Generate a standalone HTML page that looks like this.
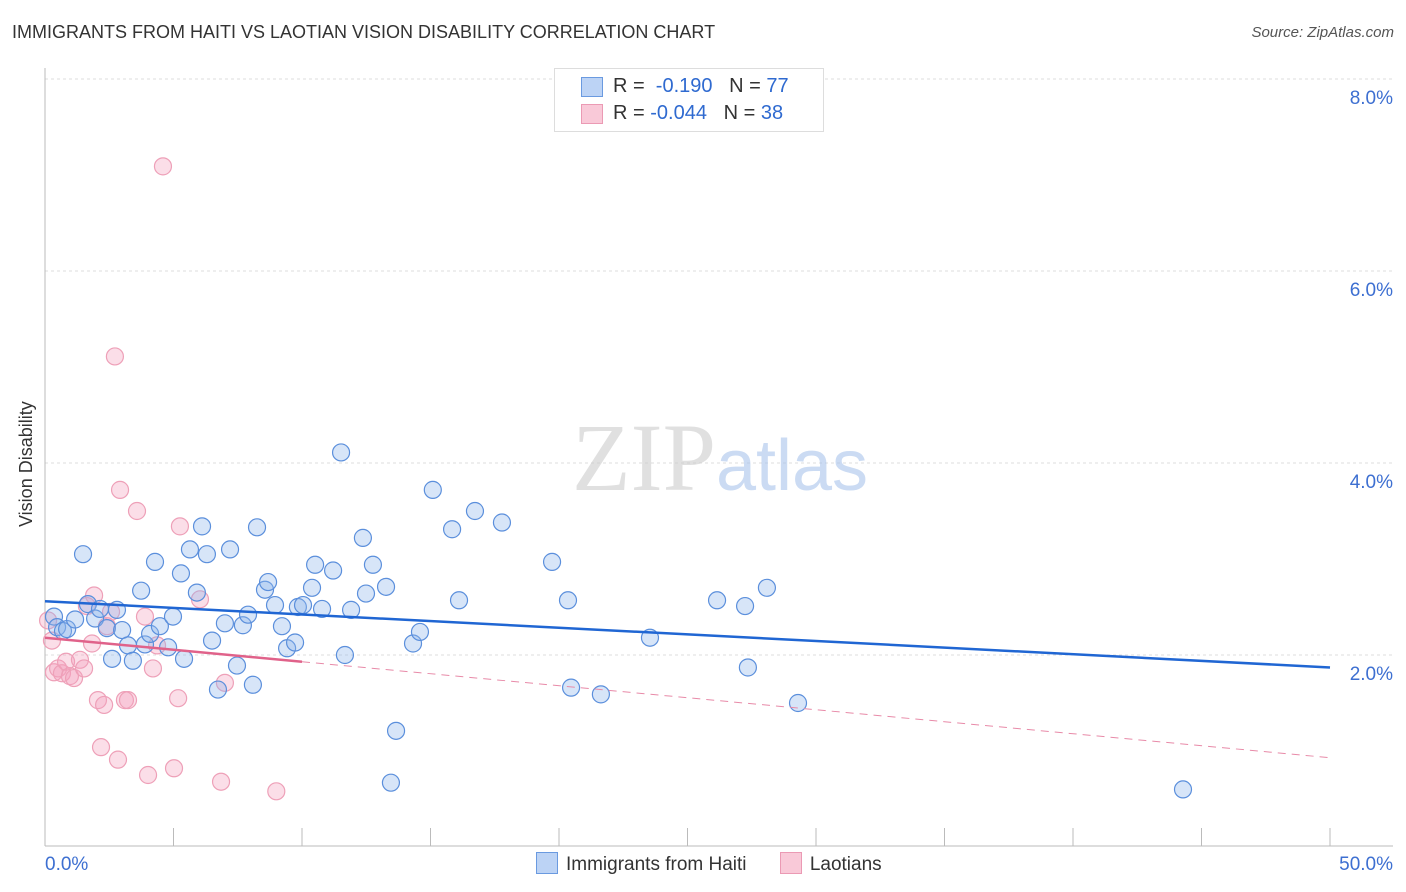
<!DOCTYPE html>
<html><head><meta charset="utf-8"><style>
body{margin:0;background:#fff;font-family:"Liberation Sans",sans-serif;}
#wrap{position:relative;width:1406px;height:892px;overflow:hidden;}
.t{position:absolute;white-space:nowrap;}
</style></head><body>
<div id="wrap">
<div class="t" style="left:12px;top:22px;font-size:18px;color:#333;">IMMIGRANTS FROM HAITI VS LAOTIAN VISION DISABILITY CORRELATION CHART</div>
<div class="t" style="right:12px;top:24px;font-size:15px;color:#555;font-style:italic;">Source: ZipAtlas.com</div>
<div class="t" style="left:16px;font-size:18px;color:#333;transform:rotate(-90deg);transform-origin:left top;top:527px;">Vision Disability</div>
<svg id="svg" width="1406" height="892" style="position:absolute;left:0;top:0"></svg>
</div>
<script>
const yTicks=[2,4,6,8];
const yTickLabels=["2.0%","4.0%","6.0%","8.0%"];
const haitiX=[0.35,0.47,0.7,0.86,1.17,1.48,1.67,1.95,2.14,2.41,2.61,2.8,3.0,3.23,3.42,3.74,3.89,4.09,4.28,4.47,4.79,4.98,5.29,5.41,5.64,5.91,6.11,6.3,6.5,6.73,7.0,7.2,7.47,7.7,7.9,8.09,8.25,8.56,8.68,8.95,9.22,9.42,9.73,9.84,10.04,10.39,10.51,10.78,11.21,11.52,11.67,11.91,12.37,12.49,12.76,13.27,13.66,13.46,14.32,14.59,15.09,15.84,16.11,16.73,17.78,19.73,20.35,20.47,21.63,23.54,26.15,27.24,27.35,28.09,29.3,44.28];
const haitiY=[2.4,2.29,2.25,2.27,2.37,3.05,2.53,2.38,2.48,2.28,1.96,2.47,2.26,2.1,1.94,2.67,2.11,2.22,2.97,2.3,2.08,2.4,2.85,1.96,3.1,2.65,3.34,3.05,2.15,1.64,2.33,3.1,1.89,2.31,2.42,1.69,3.33,2.68,2.76,2.52,2.3,2.07,2.13,2.5,2.52,2.7,2.94,2.48,2.88,4.11,2.0,2.47,3.22,2.64,2.94,2.71,1.21,0.67,2.12,2.24,3.72,3.31,2.57,3.5,3.38,2.97,2.57,1.66,1.59,2.18,2.57,2.51,1.87,2.7,1.5,0.6];
const laoX=[0.12,0.27,0.35,0.51,0.66,0.82,0.97,1.13,1.36,1.52,1.63,1.83,1.91,2.06,2.18,2.3,2.41,2.57,2.72,2.84,2.92,3.11,3.23,3.58,3.89,4.01,4.2,4.36,4.59,5.02,5.18,5.25,6.03,6.85,7.0,9.0];
const laoY=[2.36,2.15,1.82,1.86,1.81,1.93,1.78,1.76,1.95,1.86,2.51,2.12,2.62,1.53,1.04,1.48,2.3,2.45,5.11,0.91,3.72,1.53,1.53,3.5,2.4,0.75,1.86,2.1,7.09,0.82,1.55,3.34,2.58,0.68,1.71,0.58];
const haitiTrend=[2.56,1.87];
const laoTrend=[2.18,0.93];
const NS="http://www.w3.org/2000/svg";
const svg=document.getElementById('svg');
const X=v=>45+v*25.7, Y=v=>847-v*96;
function mk(t,a){const e=document.createElementNS(NS,t);for(const k in a)e.setAttribute(k,a[k]);svg.appendChild(e);return e;}
yTicks.forEach((v,i)=>{
 const g=mk('line',{x1:45,x2:1393,y1:Y(v),y2:Y(v),stroke:'#ddd','stroke-dasharray':'3,3'});
 
 
 const t=mk('text',{x:1393,y:Y(v)+25,'text-anchor':'end','font-size':19,fill:'#3d6fd1','font-family':'Liberation Sans'});
 t.textContent=yTickLabels[i];
 
 
});
let a=mk('line',{x1:45,x2:45,y1:68,y2:846,stroke:'#bbb'});

a=mk('line',{x1:45,x2:1393,y1:846,y2:846,stroke:'#bbb'});

for(let i=0;i<=10;i++){const l=mk('line',{x1:X(i*5),x2:X(i*5),y1:828,y2:846,stroke:'#bbb'});
 
 }
const wm=mk('text',{x:720,y:490,'text-anchor':'middle','font-size':96,fill:'#ccc','opacity':0.6,'font-family':'Liberation Serif'});
wm.innerHTML='ZIP<tspan fill="#a9c4ec" font-family="Liberation Sans" font-size="72">atlas</tspan>';

laoX.forEach((x,i)=>{const c=mk('circle',{cx:X(x),cy:Y(laoY[i]),r:8.5,fill:'rgba(244,160,188,0.35)',stroke:'#eea0b8','stroke-width':1.2});
 
 });
haitiX.forEach((x,i)=>{const c=mk('circle',{cx:X(x),cy:Y(haitiY[i]),r:8.5,fill:'rgba(140,180,235,0.35)',stroke:'#5b8fdc','stroke-width':1.2});
 
 });
const l1=mk('line',{x1:X(0),y1:Y(haitiTrend[0]),x2:X(50),y2:Y(haitiTrend[1]),stroke:'#2066d3','stroke-width':2.5});

const lm=laoTrend[0]+(laoTrend[1]-laoTrend[0])*0.2;
const l2=mk('line',{x1:X(0),y1:Y(laoTrend[0]),x2:X(10),y2:Y(lm),stroke:'#e0628a','stroke-width':2.5});

const l3=mk('line',{x1:X(10),y1:Y(lm),x2:X(50),y2:Y(laoTrend[1]),stroke:'#e88aa8','stroke-width':1,'stroke-dasharray':'8,6'});

let t=mk('text',{x:45,y:870,'font-size':19,fill:'#3d6fd1','font-family':'Liberation Sans'});t.textContent='0.0%';

t=mk('text',{x:1393,y:870,'text-anchor':'end','font-size':19,fill:'#3d6fd1','font-family':'Liberation Sans'});t.textContent='50.0%';

</script>
<div class="t" style="left:554px;top:68px;width:268px;height:62px;border:1px solid #ddd;background:#fff;font-size:20px;">
 <div style="position:absolute;left:26px;top:8px;width:20px;height:18px;background:#bcd3f5;border:1px solid #6a9ae0;"></div>
 <div class="t" style="left:58px;top:6px;color:#333;">R = &nbsp;<span style="color:#2f6ad0">-0.190</span> &nbsp;&nbsp;N = <span style="color:#2f6ad0">77</span></div>
 <div style="position:absolute;left:26px;top:35px;width:20px;height:18px;background:#f9c9d8;border:1px solid #eb9ab4;"></div>
 <div class="t" style="left:58px;top:33px;color:#333;">R = <span style="color:#2f6ad0">-0.044</span> &nbsp;&nbsp;N = <span style="color:#2f6ad0">38</span></div>
</div>
<div class="t" style="left:536px;top:852px;font-size:19px;color:#333;">
 <span style="display:inline-block;width:20px;height:20px;background:#bcd3f5;border:1px solid #6a9ae0;vertical-align:-4px;margin-right:8px;"></span>Immigrants from Haiti
 <span style="display:inline-block;width:20px;height:20px;background:#f9c9d8;border:1px solid #eb9ab4;vertical-align:-4px;margin:0 8px 0 28px;"></span>Laotians
</div>
</body></html>
